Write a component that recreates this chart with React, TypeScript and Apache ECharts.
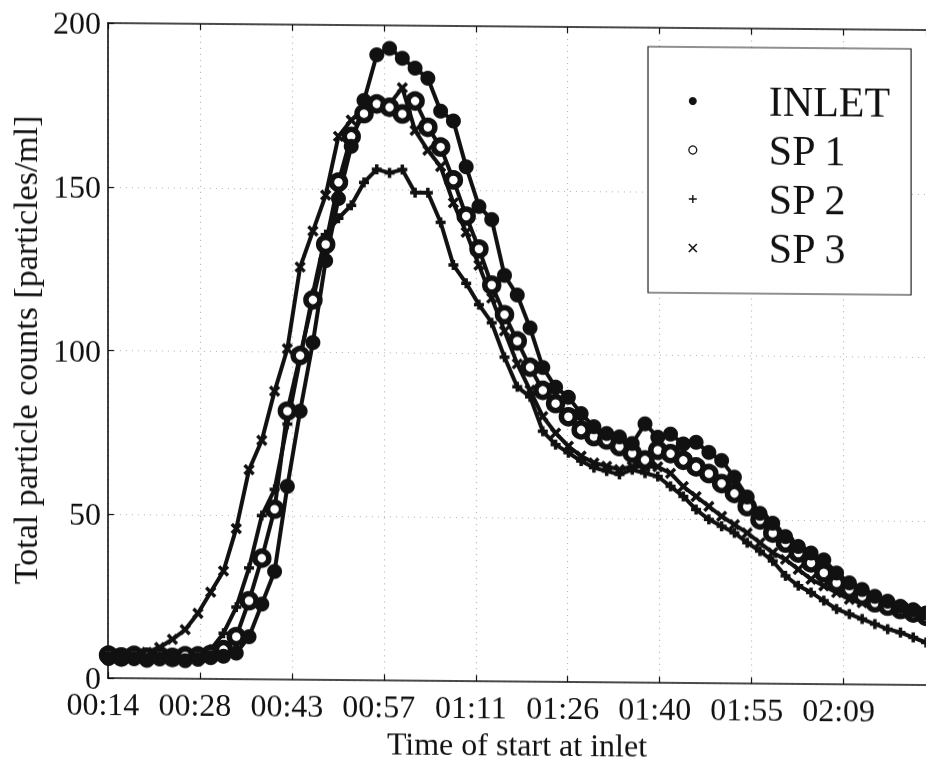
import React, { useEffect, useRef } from 'react';
import * as echarts from 'echarts';

// Time of start at inlet, in minutes
const times = [14.5, 16.5, 18.5, 20.5, 22.5, 24.5, 26.5, 28.5, 30.5, 32.5, 34.5, 36.5, 38.5, 40.5, 42.5, 44.5, 46.5, 48.5, 50.5, 52.5, 54.5, 56.5, 58.5, 60.5, 62.5, 64.5, 66.5, 68.5, 70.5, 72.5, 74.5, 76.5, 78.5, 80.5, 82.5, 84.5, 86.5, 88.5, 90.5, 92.5, 94.5, 96.5, 98.5, 100.5, 102.5, 104.5, 106.5, 108.5, 110.5, 112.5, 114.5, 116.5, 118.5, 120.5, 122.5, 124.5, 126.5, 128.5, 130.5, 132.5, 134.5, 136.5, 138.5, 140.5, 142.5];

const inlet = [6, 6, 6, 5.5, 6, 6, 5.5, 6, 6.5, 7, 8, 13, 23, 33, 59, 82, 103, 128, 147, 163, 177, 191, 193, 190, 187, 184, 174, 171, 157, 145, 141, 124, 118, 108, 96, 90, 87, 82, 78, 76, 75, 73, 79, 75, 76, 73, 73.5, 70.5, 68, 63, 57, 52, 49, 45, 42, 40, 38, 34, 31, 29, 27, 25.5, 24, 23, 22];

const sp1 = [7, 6.5, 7, 6.5, 7, 6.5, 7, 7, 7.5, 9, 13, 24, 37, 52, 82, 99, 116, 133, 152, 166, 173, 176, 175, 173, 177, 169, 163, 153, 142, 132, 121, 112, 104, 96, 89, 85, 81, 77, 75, 74, 72, 70, 68, 71, 70, 68, 66, 64, 61, 58, 54, 50, 46, 43, 40, 37, 34, 31, 29, 27, 25, 24, 23, 22, 21];

const sp2 = [7, 7, 6.5, 7, 7, 7.5, 7.5, 8, 9, 14, 22, 34, 50, 58, 78, 98, 118, 136, 141, 145, 152, 156, 155, 156, 149, 149, 140, 127, 121.5, 115, 109.5, 99, 90, 87, 76.5, 72.5, 70, 67.5, 65.5, 64.5, 63.5, 65, 64, 63, 60, 57, 53, 50, 48, 46, 43, 40.5, 37.5, 33, 30, 28, 25.5, 23, 21.5, 20, 18.5, 17, 16, 14.5, 13];

const sp3 = [7, 7, 7.5, 8, 9.5, 12, 15, 20, 26.5, 33, 46, 64, 73, 88, 101, 126, 137, 148, 166, 171, 174, 175, 176, 181, 168, 162, 157, 146, 137, 127, 117, 107, 97, 89, 81, 76, 72, 69, 67, 66, 65, 66, 66, 66, 64, 60, 57, 54, 51, 48.5, 46, 43, 40, 38, 35, 32, 30, 28, 26, 25, 24, 23, 22, 21, 20];

const xTickLabels = ['00:14', '00:28', '00:43', '00:57', '01:11', '01:26', '01:40', '01:55', '02:09'];

const seriesNames = ['INLET', 'SP 1', 'SP 2', 'SP 3'];

const FONT = "'Liberation Serif', 'Times New Roman', 'DejaVu Serif', serif";
const INK = '#111';
const PLUS = 'path://M5,0L5,10M0,5L10,5';
const CROSS = 'path://M0,0L10,10M10,0L0,10';

const X_MIN = 14.4;
const X_STEP = 14.4;
const X_MAX = 142.5;

function xLabel(v: number): string {
  const k = (v - X_MIN) / X_STEP;
  const r = Math.round(k);
  if (Math.abs(k - r) > 0.01) return '';
  return xTickLabels[r] ?? '';
}

function pairs(vals: number[]) {
  return times.map((t, i) => [t, vals[i]]);
}

export default function App() {
  const ref = useRef<HTMLDivElement>(null);

  useEffect(() => {
    if (!ref.current) return;
    const chart = echarts.init(ref.current, undefined, { renderer: 'svg' });
    const lineStyle = { color: INK, width: 4 };
    const axisLineStyle = { color: INK, width: 1.6 };
    const gridLine = { color: '#b0b0b0', type: [1, 5], width: 1.2 };
    const option: any = {
      animation: false,
      backgroundColor: '#fff',
      grid: { left: 105, right: 0, top: 23, bottom: 76, containLabel: false },
      xAxis: [
        {
          type: 'value',
          min: X_MIN,
          max: X_MAX,
          interval: X_STEP,
          position: 'bottom',
          axisLine: { show: true, onZero: false, lineStyle: axisLineStyle },
          axisTick: { show: true, inside: true, length: 6, lineStyle: { color: INK, width: 1.2 } },
          axisLabel: {
            show: true,
            formatter: xLabel,
            fontFamily: FONT,
            fontSize: 32,
            color: INK,
            margin: 10,
            padding: [0, 10, 0, 0],
            showMaxLabel: false,
          },
          splitLine: { show: true, lineStyle: gridLine },
          name: 'Time of start at inlet',
          nameLocation: 'middle',
          nameGap: 40,
          nameTextStyle: { fontFamily: FONT, fontSize: 32, color: INK },
        },
        {
          type: 'value',
          min: X_MIN,
          max: X_MAX,
          interval: X_STEP,
          position: 'top',
          axisLine: { show: true, onZero: false, lineStyle: axisLineStyle },
          axisTick: { show: true, inside: true, length: 6, lineStyle: { color: INK, width: 1.2 } },
          axisLabel: { show: false },
          splitLine: { show: false },
        },
      ],
      yAxis: [
        {
          type: 'value',
          min: 0,
          max: 200,
          interval: 50,
          axisLine: { show: true, onZero: false, lineStyle: axisLineStyle },
          axisTick: { show: true, inside: true, length: 6, lineStyle: { color: INK, width: 1.2 } },
          axisLabel: { fontFamily: FONT, fontSize: 32, color: INK, margin: 7 },
          splitLine: { show: true, lineStyle: gridLine },
          name: 'Total particle counts [particles/ml]',
          nameLocation: 'middle',
          nameGap: 64,
          nameTextStyle: { fontFamily: FONT, fontSize: 34, color: INK },
        },
      ],
      legend: {
        orient: 'vertical',
        left: 648,
        top: 42,
        itemWidth: 18,
        itemHeight: 8,
        itemGap: 5,
        padding: [32, 21, 23, 40],
        borderColor: '#222',
        borderWidth: 1.2,
        backgroundColor: '#fff',
        selectedMode: false,
        textStyle: { fontFamily: FONT, fontSize: 42, color: INK, lineHeight: 44, padding: [0, 0, 0, 62] },
        data: [
          { name: seriesNames[0], icon: 'circle', itemStyle: { color: INK, borderWidth: 0 } },
          { name: seriesNames[1], icon: 'circle', itemStyle: { color: '#fff', borderColor: INK, borderWidth: 1.3 } },
          { name: seriesNames[2], icon: PLUS, itemStyle: { color: INK, borderColor: INK, borderWidth: 1.4 } },
          { name: seriesNames[3], icon: CROSS, itemStyle: { color: INK, borderColor: INK, borderWidth: 1.6 } },
        ],
      },
      series: [
        {
          name: seriesNames[3],
          type: 'line',
          data: pairs(sp3),
          symbol: CROSS,
          symbolSize: 9,
          showAllSymbol: true,
          lineStyle,
          itemStyle: { color: INK, borderColor: INK, borderWidth: 3.5 },
        },
        {
          name: seriesNames[2],
          type: 'line',
          data: pairs(sp2),
          symbol: PLUS,
          symbolSize: 10,
          showAllSymbol: true,
          lineStyle,
          itemStyle: { color: INK, borderColor: INK, borderWidth: 3.5 },
        },
        {
          name: seriesNames[1],
          type: 'line',
          data: pairs(sp1),
          symbol: 'circle',
          symbolSize: 14,
          showAllSymbol: true,
          lineStyle,
          itemStyle: { color: '#fff', borderColor: INK, borderWidth: 5.5 },
        },
        {
          name: seriesNames[0],
          type: 'line',
          data: pairs(inlet),
          symbol: 'circle',
          symbolSize: 15,
          showAllSymbol: true,
          lineStyle,
          itemStyle: { color: INK, borderWidth: 0 },
        },
      ],
    };
    chart.setOption(option);
    return () => chart.dispose();
  }, []);

  return (
    <div
      ref={ref}
      style={{
        position: 'fixed',
        left: 0,
        top: 0,
        width: 926,
        height: 762,
        background: '#fff',
        transform: 'skewY(0.49deg)',
        transformOrigin: '105px 0px',
      }}
    />
  );
}
